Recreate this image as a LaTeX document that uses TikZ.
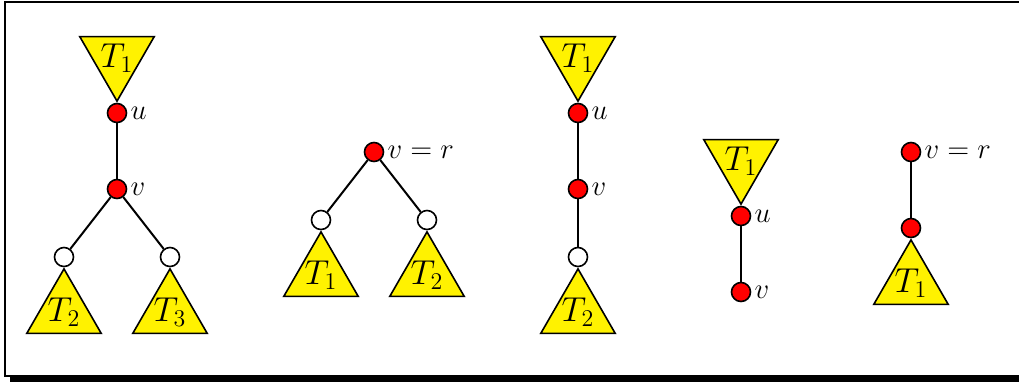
\documentclass[tikz,border=0pt]{standalone}
\usetikzlibrary{shapes.geometric}
\tikzset{
  vtx/.style={circle,draw,line width=0.8pt,minimum size=9.5pt,inner sep=0pt},
  red vtx/.style={vtx,fill=red},
  free vtx/.style={vtx,fill=white},
  subtree/.style={regular polygon,regular polygon sides=3,draw,fill=yellow,
    line width=0.8pt,minimum size=43pt,inner sep=-4pt,
    font=\fontsize{17}{19}\selectfont,anchor=corner 1},
  subtree down/.style={subtree,shape border rotate=180},
  tag/.style={font=\fontsize{15}{17}\selectfont,inner sep=1.5pt},
  edge/.style={line width=1pt},
}
\begin{document}
\begin{tikzpicture}[x=0.5pt,y=-0.5pt]
\clip (0,0) rectangle (1019,382);
% frame with shadow
\fill (10,377) rectangle (1040,382);
\draw[line width=0.75pt] (5,2) rectangle (1040,376);

% first tree
\node[red vtx,label={[tag]right:$u$}] (a-u) at (117,113) {};
\node[red vtx,label={[tag]right:$v$}] (a-v) at (117,189) {};
\node[free vtx] (a-l) at (64,257) {};
\node[free vtx] (a-r) at (170,257) {};
\node[subtree down] (a-t1) at (a-u.north) {$T_1$};
\node[subtree] (a-t2) at (a-l.south) {$T_2$};
\node[subtree] (a-t3) at (a-r.south) {$T_3$};
\draw[edge] (a-u)--(a-v);
\draw[edge] (a-v)--(a-l);
\draw[edge] (a-v)--(a-r);

% second tree
\node[red vtx,label={[tag]right:$v=r$}] (b-v) at (374,152) {};
\node[free vtx] (b-l) at (321,220) {};
\node[free vtx] (b-r) at (427,220) {};
\node[subtree] (b-t1) at (b-l.south) {$T_1$};
\node[subtree] (b-t2) at (b-r.south) {$T_2$};
\draw[edge] (b-v)--(b-l);
\draw[edge] (b-v)--(b-r);

% third tree
\node[red vtx,label={[tag]right:$u$}] (c-u) at (578,113) {};
\node[red vtx,label={[tag]right:$v$}] (c-v) at (578,189) {};
\node[free vtx] (c-w) at (578,257) {};
\node[subtree down] (c-t1) at (c-u.north) {$T_1$};
\node[subtree] (c-t2) at (c-w.south) {$T_2$};
\draw[edge] (c-u)--(c-v);
\draw[edge] (c-v)--(c-w);

% fourth tree
\node[red vtx,label={[tag]right:$u$}] (d-u) at (741,216) {};
\node[red vtx,label={[tag]right:$v$}] (d-v) at (741,292) {};
\node[subtree down] (d-t1) at (d-u.north) {$T_1$};
\draw[edge] (d-u)--(d-v);

% fifth tree
\node[red vtx,label={[tag]right:$v=r$}] (e-v) at (911,152) {};
\node[red vtx] (e-w) at (911,228) {};
\node[subtree] (e-t1) at (e-w.south) {$T_1$};
\draw[edge] (e-v)--(e-w);
\end{tikzpicture}
\end{document}
